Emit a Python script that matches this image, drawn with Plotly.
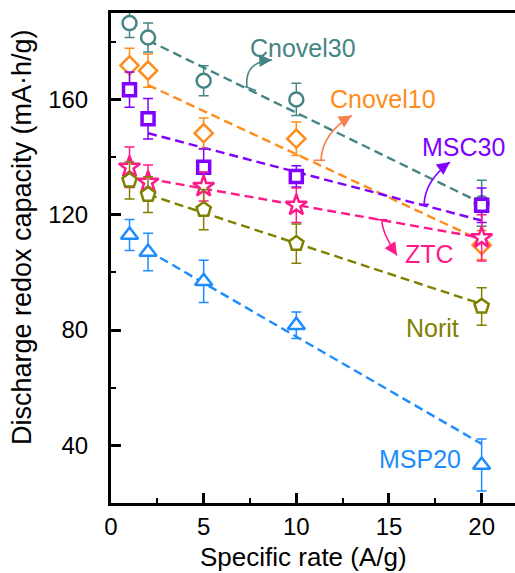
import plotly.graph_objects as go

# ---------------- data ----------------
rates = [1, 2, 5, 10, 20]

cnovel30 = [186.5, 181.5, 166.5, 160.0, 124.0]
cnovel30_err = [5.0, 5.0, 5.2, 5.6, 8.0]

cnovel10 = [171.8, 170.0, 148.3, 146.4, 109.5]
cnovel10_err = [6.0, 5.8, 5.3, 5.8, 5.0]

msc30 = [163.4, 153.3, 136.5, 133.3, 123.3]
msc30_err = [6.1, 7.0, 6.3, 3.7, 6.0]

ztc = [136.5, 131.3, 129.8, 123.3, 112.0]
ztc_err = [7.0, 6.0, 5.0, 6.0, 8.0]

norit = [131.9, 127.0, 121.8, 110.0, 88.2]
norit_err = [6.4, 6.2, 7.0, 6.8, 6.5]

msp20 = [113.0, 107.1, 96.9, 81.7, 33.2]
msp20_err = [5.4, 6.5, 7.3, 4.6, 9.0]

# dashed linear-fit lines (end values)
fit_x = [2, 20]
fit_cnovel30 = [180.5, 124.0]
fit_cnovel10 = [165.0, 111.0]
fit_msc30 = [148.3, 118.0]
fit_ztc = [132.5, 112.0]
fit_norit = [127.0, 89.0]
fit_msp20 = [107.5, 40.5]

x_ticks = [0, 5, 10, 15, 20]
y_ticks = [40, 80, 120, 160]

# ---------------- styles ----------------
FONT = "Liberation Sans, Arial, sans-serif"
C_TEAL = "#468585"
C_ORANGE = "#FF8C1A"
C_PURPLE = "#8000FF"
C_MAGENTA = "#FF1A8C"
C_OLIVE = "#808000"
C_BLUE = "#1E8CFF"

series = [
    ("Cnovel30", cnovel30, cnovel30_err, fit_cnovel30, C_TEAL, "circle", 14, 2.5),
    ("Cnovel10", cnovel10, cnovel10_err, fit_cnovel10, C_ORANGE, "diamond", 14, 2.5),
    ("MSC30", msc30, msc30_err, fit_msc30, C_PURPLE, "square", 12, 3.5),
    ("ZTC", ztc, ztc_err, fit_ztc, C_MAGENTA, "star", 16, 2.5),
    ("Norit", norit, norit_err, fit_norit, C_OLIVE, "pentagon", 15, 2.5),
    ("MSP20", msp20, msp20_err, fit_msp20, C_BLUE, "triangle-up", 15, 2.5),
]

fig = go.Figure()

for name, vals, err, fit, col, sym, size, lw in series:
    fig.add_trace(go.Scatter(
        x=fit_x, y=fit, mode="lines",
        line=dict(color=col, width=2.4, dash="9px,5px"),
        showlegend=False, hoverinfo="skip"))

for name, vals, err, fit, col, sym, size, lw in series:
    fig.add_trace(go.Scatter(
        x=rates, y=vals, mode="markers", name=name,
        marker=dict(symbol=sym, size=size, color="white",
                    line=dict(color=col, width=lw)),
        error_y=dict(type="data", array=err, visible=True,
                     color=col, thickness=1.5, width=5),
        showlegend=False))

# ---------------- labels & curved arrows ----------------
labels = [
    ("Cnovel30", 10.36, 178.0, C_TEAL),
    ("Cnovel10", 14.68, 160.3, C_ORANGE),
    ("MSC30", 19.0, 143.4, C_PURPLE),
    ("ZTC", 17.2, 106.3, C_MAGENTA),
    ("Norit", 17.35, 80.6, C_OLIVE),
    ("MSP20", 16.7, 35.2, C_BLUE),
]
annotations = []
for txt, ax_, ay_, col in labels:
    annotations.append(dict(x=ax_, y=ay_, xref="x", yref="y", text=txt,
                            showarrow=False, font=dict(family=FONT, size=25, color=col),
                            xanchor="center", yanchor="middle"))

# (start, control, tip, tee_a, tee_b, head offset px, colour)
arrows = [
    ((7.34, 164.2), (7.18, 173.2), (8.69, 173.7), (7.23, 164.5), (7.83, 163.1), (-10, 0.5), C_TEAL),
    ((11.33, 138.9), (11.39, 148.2), (12.99, 154.45), (10.92, 138.9), (11.55, 138.9), (-8.6, 5.2), "#F7804F"),
    ((16.89, 123.6), (16.95, 131.9), (18.29, 138.3), (16.62, 123.6), (17.16, 123.6), (-8.1, 5.9), C_PURPLE),
    ((14.61, 118.3), (14.62, 113.9), (15.43, 105.9), (14.35, 118.3), (14.90, 118.3), (-5.5, -8.4), C_MAGENTA),
]
shapes = []
for s, c, t, ta, tb, off, col in arrows:
    shapes.append(dict(type="path", xref="x", yref="y",
                       path=f"M {s[0]},{s[1]} Q {c[0]},{c[1]} {t[0]},{t[1]}",
                       line=dict(color=col, width=1.6)))
    shapes.append(dict(type="line", xref="x", yref="y",
                       x0=ta[0], y0=ta[1], x1=tb[0], y1=tb[1],
                       line=dict(color=col, width=1.6)))
    annotations.append(dict(x=t[0], y=t[1], xref="x", yref="y", ax=off[0], ay=off[1],
                            axref="pixel", ayref="pixel", text="", showarrow=True,
                            arrowhead=2, arrowsize=1.6, arrowwidth=1.6, arrowcolor=col))

# axis titles
annotations.append(dict(x=0.477, y=-0.11, xref="paper", yref="paper",
                        text="Specific rate (A/g)", showarrow=False,
                        font=dict(family=FONT, size=26, color="black"),
                        xanchor="center", yanchor="middle"))
annotations.append(dict(x=-0.22, y=0.543, xref="paper", yref="paper",
                        text="Discharge redox capacity (mA·h/g)", showarrow=False,
                        textangle=-90,
                        font=dict(family=FONT, size=27, color="black"),
                        xanchor="center", yanchor="middle"))

fig.update_layout(
    width=515, height=573,
    margin=dict(l=111, r=0, t=13, b=70),
    paper_bgcolor="white", plot_bgcolor="white",
    font=dict(family=FONT, color="black"),
    annotations=annotations, shapes=shapes,
    showlegend=False,
)
fig.update_xaxes(
    range=[0, 21.8], tickvals=x_ticks, ticktext=[str(v) for v in x_ticks],
    showgrid=False, zeroline=False,
    showline=True, linecolor="black", linewidth=3, mirror=True,
    ticks="inside", ticklen=10, tickwidth=3, tickcolor="black",
    tickfont=dict(family=FONT, size=24, color="black"),
    ticklabelstandoff=0,
    minor=dict(ticks="inside", ticklen=5, tickwidth=2, tickcolor="black", dtick=2.5, tick0=0),
)
fig.update_yaxes(
    range=[20, 190], tickvals=y_ticks, ticktext=[str(v) for v in y_ticks],
    showgrid=False, zeroline=False,
    showline=True, linecolor="black", linewidth=3, mirror=False,
    ticks="inside", ticklen=10, tickwidth=3, tickcolor="black",
    tickfont=dict(family=FONT, size=24, color="black"),
    ticklabelstandoff=15,
    minor=dict(ticks="inside", ticklen=5, tickwidth=2, tickcolor="black", dtick=20, tick0=0),
)

fig.write_html("out.html")
